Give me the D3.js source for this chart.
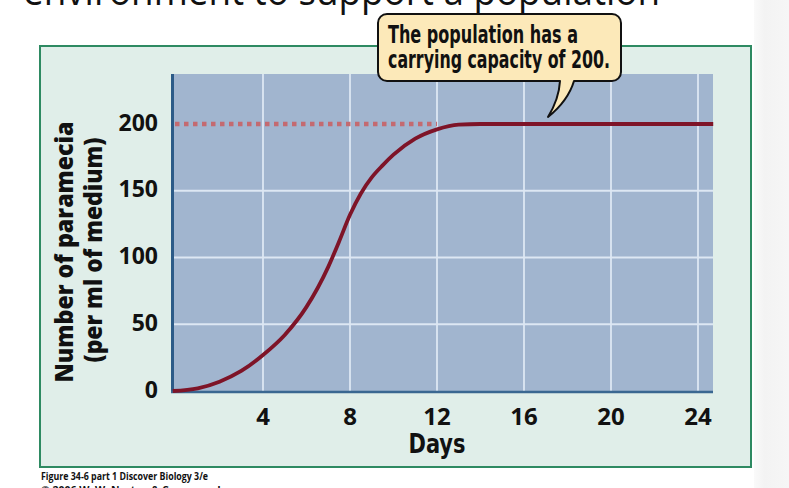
<!DOCTYPE html>
<html>
<head>
<meta charset="utf-8">
<script src="https://cdn.jsdelivr.net/npm/d3@7"></script>
<style>
  html, body { margin: 0; padding: 0; background: #fff; }
  svg { display: block; }
</style>
</head>
<body>
<div id="chart"></div>
<script>
// ── Data ───────────────────────────────────────────────────
var days = [-0.15, 1, 2, 3, 4, 5, 6, 7, 7.5, 8, 8.5, 9, 9.5, 10, 11, 12, 13, 14, 24.7];
var paramecia = [0, 2, 7, 15, 27, 42, 63, 93, 112, 132, 148, 160, 169, 177, 189, 196, 199.5, 200, 200];
var xTicks = [4, 8, 12, 16, 20, 24];
var yTicks = [0, 50, 100, 150, 200];
var yGrid = [50, 100, 150];
var carryingCapacity = 200;
var capacityDotsEnd = 12;

// ── Layout ─────────────────────────────────────────────────
var W = 789, H = 488;
var panel = { x: 40, y: 46, w: 711, h: 421 };
var plot = { left: 171, right: 713, top: 74, bottom: 393 };
var font = "'Open Sans', 'Noto Sans', sans-serif";
var narrow = "'Liberation Sans Narrow', 'DejaVu Sans Condensed', 'Roboto', sans-serif";

var x = d3.scaleLinear().domain([0, 24]).range([176, 698]);
var y = d3.scaleLinear().domain([0, 200]).range([391, 124]);

var svg = d3.select("#chart").append("svg")
  .attr("width", W).attr("height", H);

// slide backdrop on the right
var defs = svg.append("defs");
var grad = defs.append("linearGradient").attr("id", "side")
  .attr("x1", 0).attr("x2", 1).attr("y1", 0).attr("y2", 0);
grad.append("stop").attr("offset", "0%").attr("stop-color", "#fafafa");
grad.append("stop").attr("offset", "30%").attr("stop-color", "#f3f3f3");
grad.append("stop").attr("offset", "100%").attr("stop-color", "#f6f6f6");
svg.append("rect").attr("x", 754).attr("y", 0).attr("width", W - 754).attr("height", H)
  .attr("fill", "url(#side)");

// slide title, clipped at the top
svg.append("text")
  .attr("x", 23).attr("y", 5)
  .attr("font-family", "'Open Sans', Lato, sans-serif")
  .attr("font-size", 40)
  .attr("fill", "#111")
  .attr("textLength", 637).attr("lengthAdjust", "spacingAndGlyphs")
  .text("environment to support a population");

// green panel
svg.append("rect")
  .attr("x", panel.x).attr("y", panel.y).attr("width", panel.w).attr("height", panel.h)
  .attr("fill", "#e0eee9").attr("stroke", "#2e8a62").attr("stroke-width", 2);

// plot background
svg.append("rect")
  .attr("x", plot.left).attr("y", plot.top)
  .attr("width", plot.right - plot.left).attr("height", plot.bottom - plot.top)
  .attr("fill", "#a1b5cf");

// grid
var g = svg.append("g");
g.selectAll(".vgrid").data(xTicks).join("line")
  .attr("x1", d => x(d)).attr("x2", d => x(d))
  .attr("y1", plot.top).attr("y2", plot.bottom)
  .attr("stroke", "#dde7f3").attr("stroke-width", 1.8);
g.selectAll(".hgrid").data(yGrid).join("line")
  .attr("x1", plot.left).attr("x2", plot.right)
  .attr("y1", d => y(d)).attr("y2", d => y(d))
  .attr("stroke", "#dde7f3").attr("stroke-width", 1.8);

// axes lines
svg.append("line")
  .attr("x1", plot.left + 1.5).attr("x2", plot.left + 1.5)
  .attr("y1", plot.top).attr("y2", plot.bottom)
  .attr("stroke", "#2c5b88").attr("stroke-width", 3);
svg.append("line")
  .attr("x1", plot.left).attr("x2", plot.right)
  .attr("y1", plot.bottom - 1).attr("y2", plot.bottom - 1)
  .attr("stroke", "#3a6791").attr("stroke-width", 2.5);

// carrying capacity dotted line
svg.append("line")
  .attr("x1", plot.left + 4).attr("x2", x(capacityDotsEnd))
  .attr("y1", y(carryingCapacity)).attr("y2", y(carryingCapacity))
  .attr("stroke", "#c46a70").attr("stroke-width", 4.5)
  .attr("stroke-dasharray", "4.5,4.5");

// growth curve
var line = d3.line()
  .x((d, i) => x(days[i]))
  .y(d => y(d))
  .curve(d3.curveMonotoneX);
svg.append("path")
  .datum(paramecia)
  .attr("d", line)
  .attr("fill", "none")
  .attr("stroke", "#7e1428")
  .attr("stroke-width", 3.8)
  .attr("stroke-linecap", "butt");

// tick labels
svg.selectAll(".xt").data(xTicks).join("text")
  .attr("x", d => x(d)).attr("y", 425)
  .attr("text-anchor", "middle")
  .attr("font-family", font).attr("font-weight", 700).attr("font-size", 24)
  .attr("fill", "#111")
  .text(d => d);
svg.selectAll(".yt").data(yTicks).join("text")
  .attr("x", 158).attr("y", d => y(d) + 6.5)
  .attr("text-anchor", "end")
  .attr("font-family", font).attr("font-weight", 700).attr("font-size", 23)
  .attr("fill", "#111")
  .text(d => d);

// axis titles
svg.append("text")
  .attr("x", 437).attr("y", 453)
  .attr("text-anchor", "middle")
  .attr("font-family", narrow).attr("font-weight", 700).attr("font-size", 26)
  .attr("fill", "#111")
  .attr("textLength", 57).attr("lengthAdjust", "spacingAndGlyphs")
  .text("Days");

svg.append("text")
  .attr("transform", "translate(73,252) rotate(-90)")
  .attr("text-anchor", "middle")
  .attr("font-family", font).attr("font-weight", 800).attr("font-size", 24)
  .attr("fill", "#111")
  .attr("textLength", 261).attr("lengthAdjust", "spacingAndGlyphs")
  .text("Number of paramecia");
svg.append("text")
  .attr("transform", "translate(102,250) rotate(-90)")
  .attr("text-anchor", "middle")
  .attr("font-family", font).attr("font-weight", 800).attr("font-size", 24)
  .attr("fill", "#111")
  .attr("textLength", 225).attr("lengthAdjust", "spacingAndGlyphs")
  .text("(per ml of medium)");

// callout
var c = { l: 378, r: 621, t: 14, b: 81, rad: 9 };
var tail = { a: 560, b: 574, tipX: 548, tipY: 117 };
var p = d3.path();
p.moveTo(c.l + c.rad, c.t);
p.lineTo(c.r - c.rad, c.t);
p.arcTo(c.r, c.t, c.r, c.t + c.rad, c.rad);
p.lineTo(c.r, c.b - c.rad);
p.arcTo(c.r, c.b, c.r - c.rad, c.b, c.rad);
p.lineTo(tail.b, c.b);
p.quadraticCurveTo(tail.b - 6, c.b + 20, tail.tipX, tail.tipY);
p.quadraticCurveTo(tail.a - 1, c.b + 18, tail.a, c.b);
p.lineTo(c.l + c.rad, c.b);
p.arcTo(c.l, c.b, c.l, c.b - c.rad, c.rad);
p.lineTo(c.l, c.t + c.rad);
p.arcTo(c.l, c.t, c.l + c.rad, c.t, c.rad);
p.closePath();
svg.append("path")
  .attr("d", p.toString())
  .attr("fill", "#fce9b9").attr("stroke", "#111").attr("stroke-width", 2)
  .attr("stroke-linejoin", "round");

var calloutLines = ["The population has a", "carrying capacity of 200."];
var calloutWidths = [190, 222];
svg.selectAll(".cl").data(calloutLines).join("text")
  .attr("x", 388).attr("y", (d, i) => 43 + i * 25)
  .attr("font-family", narrow).attr("font-weight", 700).attr("font-size", 24)
  .attr("fill", "#111")
  .attr("textLength", (d, i) => calloutWidths[i]).attr("lengthAdjust", "spacingAndGlyphs")
  .text(d => d);

// caption
svg.append("text")
  .attr("x", 41).attr("y", 480)
  .attr("font-family", font).attr("font-weight", 700).attr("font-size", 10.5)
  .attr("fill", "#111")
  .attr("textLength", 167).attr("lengthAdjust", "spacingAndGlyphs")
  .text("Figure 34-6 part 1  Discover Biology 3/e");
svg.append("text")
  .attr("x", 41).attr("y", 494)
  .attr("font-family", font).attr("font-weight", 700).attr("font-size", 10.5)
  .attr("fill", "#111")
  .text("© 2006 W. W. Norton & Company, Inc.");
</script>
</body>
</html>
